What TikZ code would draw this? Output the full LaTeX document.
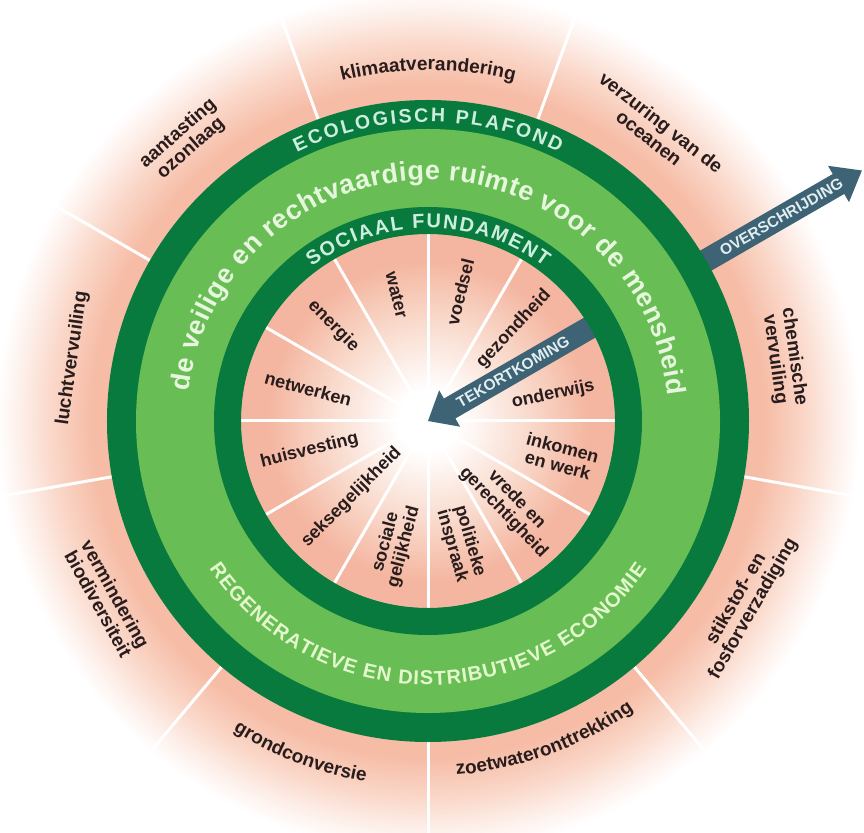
\documentclass[tikz,border=0pt]{standalone}
\usepackage{fontspec}
\setmainfont{Liberation Sans}
\usetikzlibrary{decorations.text}
\definecolor{salmon}{RGB}{246,188,166}
\definecolor{salmonmid}{RGB}{250,215,200}
\definecolor{salmonfade}{RGB}{253,238,232}
\definecolor{salmonin}{RGB}{244,182,160}
\definecolor{salmonpale}{RGB}{249,218,204}
\definecolor{darkgreen}{RGB}{8,122,62}
\definecolor{lightgreen}{RGB}{104,190,84}
\definecolor{ringtext}{RGB}{205,238,222}
\definecolor{maintext}{RGB}{230,247,222}
\definecolor{bottomtext}{RGB}{228,248,205}
\definecolor{arrowcol}{RGB}{62,99,116}
\definecolor{arrowtextcol}{RGB}{225,238,242}
\definecolor{labeltext}{RGB}{40,28,28}
\pgfdeclareradialshading{outerbg}{\pgfpoint{0bp}{0bp}}{color(0bp)=(salmon); color(335bp)=(salmon); color(375bp)=(salmonmid); color(405bp)=(salmonfade); color(430bp)=(white); color(460bp)=(white)}
\pgfdeclareradialshading{innerbg}{\pgfpoint{0bp}{0bp}}{color(0bp)=(white); color(30bp)=(white); color(100bp)=(salmonpale); color(160bp)=(salmonin); color(190bp)=(salmonin)}
\tikzset{
  outerlab/.style={font=\bfseries\fontsize{19}{19.5}\selectfont, text=labeltext, align=center, inner sep=0pt},
  innerlab/.style={font=\bfseries\fontsize{18}{18.5}\selectfont, text=labeltext, align=center, inner sep=0pt},
  divline/.style={white, line width=3pt},
  arrowtext/.style={font=\bfseries\fontsize{15.5}{15.5}\selectfont, text=arrowtextcol, inner sep=0pt},
}
\begin{document}
\begin{tikzpicture}[x=1pt,y=1pt]
\clip (-428,-411) rectangle (436,421);
\fill[white] (-428,-411) rectangle (436,421);
% background
\node[inner sep=0pt] (bg) at (0,0) {\pgfuseshading{outerbg}};
% outer dividers
\foreach \a in {70,30,-10,-50,-90,-130,-170,150,110}
  \draw[divline] (\a:321pt) -- (\a:432pt);
% overshoot arrow
\begin{scope}[rotate=30]
  \fill[arrowcol] (300,-11.5) -- (474,-11.5) -- (474,-21) -- (501,0) -- (474,21) -- (474,11.5) -- (300,11.5) -- cycle;
\end{scope}
\node[arrowtext, rotate=30] (over) at (30:408) {OVERSCHRIJDING};
% rings
\fill[darkgreen] (0,0) circle (321pt);
\fill[lightgreen] (0,0) circle (292pt);
\begin{scope}
  \clip (0,0) circle (187pt);
  \node[inner sep=0pt] (inbg) at (0,0) {\pgfuseshading{innerbg}};
\end{scope}
\foreach \a in {0,30,...,330}
  \draw[divline] (0,0) -- (\a:187pt);
% shortfall arrow
\begin{scope}[rotate=30]
  \fill[arrowcol] (205,-11.5) -- (25,-11.5) -- (25,-21) -- (0,0) -- (25,21) -- (25,11.5) -- (205,11.5) -- cycle;
\end{scope}
\node[arrowtext, rotate=30] (tekort) at (30:98) {TEKORTKOMING};
\fill[darkgreen, even odd rule] (0,0) circle (214pt) (0,0) circle (187pt);
% ring texts
\path[decorate, decoration={text along path, text align={fit to path}, text color=ringtext,
  text={|\bfseries\fontsize{19.5}{19.5}\selectfont|ECOLOGISCH PLAFOND}}]
  (116:299pt) arc[start angle=116, end angle=64, radius=299pt];
\path[decorate, decoration={text along path, text align={fit to path}, text color=ringtext,
  text={|\bfseries\fontsize{20}{20}\selectfont|SOCIAAL FUNDAMENT}}]
  (127:193pt) arc[start angle=127, end angle=53, radius=193pt];
\path[decorate, decoration={text along path, text align={fit to path}, text color=maintext,
  text={|\bfseries\fontsize{27}{27}\selectfont|de veilige en rechtvaardige ruimte voor de mensheid}}]
  (173:241pt) arc[start angle=173, end angle=6, radius=241pt];
\path[decorate, decoration={text along path, text align={fit to path}, text color=bottomtext,
  text={|\bfseries\fontsize{20}{20}\selectfont|REGENERATIEVE EN DISTRIBUTIEVE ECONOMIE}}]
  (214:264pt) arc[start angle=214, end angle=326, radius=264pt];
% outer labels
\path[decorate, decoration={text along path, text align=center, text color=labeltext,
  text={|\bfseries\fontsize{19}{19}\selectfont|klimaatverandering}}]
  (125:351pt) arc[start angle=125, end angle=55, radius=351pt];
\path[decorate, decoration={text along path, text align=center, text color=labeltext,
  text={|\bfseries\fontsize{19}{19}\selectfont|zoetwateronttrekking}}]
  (-105:355pt) arc[start angle=-105, end angle=-35, radius=355pt];
\path[decorate, decoration={text along path, text align=center, text color=labeltext,
  text={|\bfseries\fontsize{19}{19}\selectfont|grondconversie}}]
  (-146:366pt) arc[start angle=-146, end angle=-76, radius=366pt];
\node[outerlab, rotate=-38] (verzuring) at (52:369) {verzuring van de\\oceanen};
\node[outerlab, rotate=-82] (chemisch) at (10:362) {chemische\\vervuiling};
\node[outerlab, rotate=60] (stikstof) at (-30:366) {stikstof- en\\fosforverzadiging};
\node[outerlab, rotate=-61] (biodiv) at (-151:367) {vermindering\\biodiversiteit};
\node[outerlab, rotate=82] (lucht) at (170:361) {luchtvervuiling};
\node[outerlab, rotate=41] (ozon) at (131:371) {aantasting\\ozonlaag};
% inner labels
\node[innerlab, rotate=76] (voedsel) at (76:133) {voedsel};
\node[innerlab, rotate=-76] (water) at (104:130) {water};
\node[innerlab, rotate=47] (gezond) at (47:126) {gezondheid};
\node[innerlab, rotate=12] (onderwijs) at (12:128) {onderwijs};
\node[innerlab, rotate=-15] (inkomen) at (-15:137) {inkomen\\en werk};
\node[innerlab, rotate=-46] (vrede) at (-46:118) {vrede en\\gerechtigheid};
\node[innerlab, rotate=-74] (politiek) at (-75:127) {politieke\\inspraak};
\node[innerlab, rotate=75] (sociaal) at (-105:128) {sociale\\gelijkheid};
\node[innerlab, rotate=45] (sekse) at (-135:108) {seksegelijkheid};
\node[innerlab, rotate=14] (huis) at (-166:122) {huisvesting};
\node[innerlab, rotate=-15] (netwerk) at (165:124) {netwerken};
\node[innerlab, rotate=-45] (energie) at (135:134) {energie};
\end{tikzpicture}
\end{document}
